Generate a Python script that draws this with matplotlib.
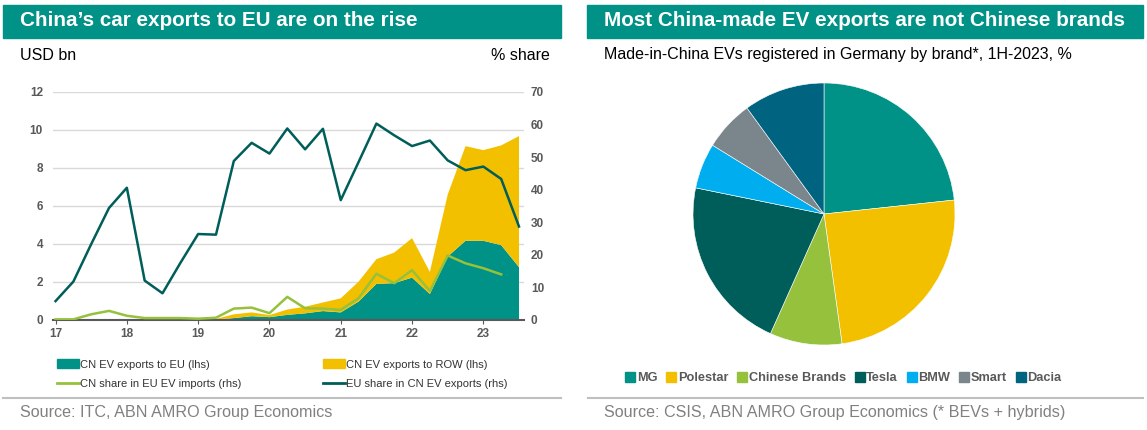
import numpy as np
import matplotlib
matplotlib.use('Agg')
import matplotlib.pyplot as plt
from matplotlib.patches import Patch, Rectangle
from matplotlib.lines import Line2D

plt.rcParams['font.family'] = ['Liberation Sans', 'DejaVu Sans']

# quarterly data, 2017Q1 .. 2023Q3
quarters = np.arange(17.0, 23.51, 0.25)
eu_exports = [0.01, 0.01, 0.01, 0.01, 0.01, 0.01, 0.01, 0.01, 0.02, 0.03,
              0.10, 0.20, 0.15, 0.27, 0.35, 0.47, 0.40, 0.97,
              1.90, 1.94, 2.23, 1.37, 3.34, 4.17, 4.17, 3.94, 2.78]
row_exports = [0.02, 0.02, 0.03, 0.04, 0.03, 0.02, 0.02, 0.02, 0.02, 0.03,
               0.20, 0.20, 0.11, 0.28, 0.35, 0.45, 0.74, 1.05,
               1.30, 1.61, 2.08, 1.16, 3.26, 4.98, 4.77, 5.25, 6.90]
cn_share_eu = [0.2, 0.2, 1.75, 2.8, 1.3, 0.6, 0.6, 0.6, 0.4, 0.7,
               3.5, 3.8, 2.1, 7.1, 3.6, 3.5, 3.1, 6.7,
               14.2, 11.3, 15.3, 8.9, 19.8, 17.4, 15.9, 14.0, np.nan]
eu_share_cn = [5.8, 11.8, 23.3, 34.4, 40.6, 12.1, 8.2, 17.5, 26.4, 26.2,
               48.8, 54.4, 51.1, 58.8, 52.4, 58.7, 36.8, 48.5,
               60.3, 56.7, 53.4, 55.1, 49.0, 46.0, 47.1, 43.3, 28.7]
year_ticks = [17, 18, 19, 20, 21, 22, 23]

# pie data
brands = ['MG', 'Polestar', 'Chinese Brands', 'Tesla', 'BMW', 'Smart', 'Dacia']
brand_share = [23.3, 24.5, 8.9, 21.5, 5.6, 6.2, 10.0]

TEAL = '#009286'
YELLOW = '#F3C000'
LGREEN = '#95C13D'
DTEAL = '#005E5A'
brand_colors = [TEAL, YELLOW, LGREEN, DTEAL, '#00AEEF', '#7A868C', '#00637F']

W, H = 1147, 430
fig = plt.figure(figsize=(W / 100, H / 100), dpi=100)


def box(x0, y0, x1, y1):
    # pixel box (top-left origin) -> figure fraction rect
    return [x0 / W, 1 - y1 / H, (x1 - x0) / W, (y1 - y0) / H]


def px(x, y):
    return x / W, 1 - y / H


# header bands
for x0, x1 in [(3, 561), (587, 1143)]:
    fig.patches.append(Rectangle((x0 / W, 1 - 38 / H), (x1 - x0) / W, 33 / H,
                                 transform=fig.transFigure, color=TEAL, zorder=0))
fig.text(*px(20, 21), "China\u2019s car exports to EU are on the rise", color='white',
         fontsize=14.9, fontweight='bold', va='center')
fig.text(*px(604, 21), "Most China-made EV exports are not Chinese brands", color='white',
         fontsize=14.9, fontweight='bold', va='center')

fig.text(*px(20, 55), 'USD bn', fontsize=11.5, va='center', color='black')
fig.text(*px(550, 55), '% share', fontsize=11.5, va='center', ha='right', color='black')
fig.text(*px(604, 55), 'Made-in-China EVs registered in Germany by brand*, 1H-2023, %',
         fontsize=11.5, va='center', color='black')

# separators and sources
for x0, x1 in [(3, 561), (588, 1143)]:
    fig.add_artist(Line2D([x0 / W, x1 / W], [1 - 398 / H] * 2, color='#BFBFBF', lw=1.5))
fig.text(*px(20, 413), 'Source: ITC, ABN AMRO Group Economics', fontsize=11.6,
         color='#808080', va='center')
fig.text(*px(604, 413), 'Source: CSIS, ABN AMRO Group Economics (* BEVs + hybrids)',
         fontsize=11.6, color='#808080', va='center')

# left chart
ax = fig.add_axes(box(52.7, 92, 524, 320))
ax.stackplot(quarters, eu_exports, row_exports, colors=[TEAL, YELLOW], lw=0)
ax.set_ylim(0, 12)
ax.set_xlim(16.96, 23.57)
ax.set_yticks(range(0, 13, 2))
ax.set_xticks(year_ticks)
ax.set_xticklabels([str(y) for y in year_ticks])
ax.grid(axis='y', color='#D9D9D9', lw=1)
ax.set_axisbelow(True)
for s in ['top', 'right', 'left']:
    ax.spines[s].set_visible(False)
ax.spines['bottom'].set_color('#595959')
ax.spines['bottom'].set_linewidth(1.5)
ax.tick_params(axis='y', length=0, pad=7)
ax.tick_params(axis='x', length=3, color='#595959', pad=3)

ax2 = ax.twinx()
ax2.plot(quarters, cn_share_eu, color=LGREEN, lw=1.8)
ax2.plot(quarters, eu_share_cn, color=DTEAL, lw=1.8)
ax2.set_ylim(0, 70)
ax2.set_yticks(range(0, 71, 10))
for s in ['top', 'right', 'left', 'bottom']:
    ax2.spines[s].set_visible(False)
ax2.tick_params(axis='y', length=0, pad=5)

for a in (ax, ax2):
    for lab in a.get_xticklabels() + a.get_yticklabels():
        lab.set_fontsize(8.5)
        lab.set_fontweight('bold')
        lab.set_color('#595959')

handles = [Patch(color=TEAL), Patch(color=YELLOW),
           Line2D([], [], color=LGREEN, lw=2), Line2D([], [], color=DTEAL, lw=2)]
labels = ['CN EV exports to EU (lhs)', 'CN EV exports to ROW (lhs)',
          'CN share in EU EV imports (rhs)', 'EU share in CN EV exports (rhs)']
order = [0, 2, 1, 3]
fig.legend([handles[i] for i in order], [labels[i] for i in order], ncol=2,
           loc='center left', bbox_to_anchor=px(47, 374), frameon=False,
           fontsize=8, handlelength=2.0, handleheight=0.8, handletextpad=0.1,
           columnspacing=7.3, labelspacing=0.8, labelcolor='#333333')

# pie chart
r = 131
axp = fig.add_axes(box(824 - r, 214 - r, 824 + r, 214 + r))
axp.pie(brand_share, colors=brand_colors, startangle=90, counterclock=False,
        radius=1, wedgeprops=dict(edgecolor='white', linewidth=0.4))
axp.set_xlim(-1, 1)
axp.set_ylim(-1, 1)
axp.set_aspect('equal')

phandles = [Line2D([], [], marker='s', ls='', color=c, markersize=6.5) for c in brand_colors]
fig.legend(phandles, brands, ncol=7, loc='center', bbox_to_anchor=px(842, 378),
           frameon=False, handletextpad=-0.1, columnspacing=0.5,
           handlelength=1.2, prop=dict(weight='bold', size=9.2), labelcolor='#595959')

fig.savefig('out.png', dpi=100)
